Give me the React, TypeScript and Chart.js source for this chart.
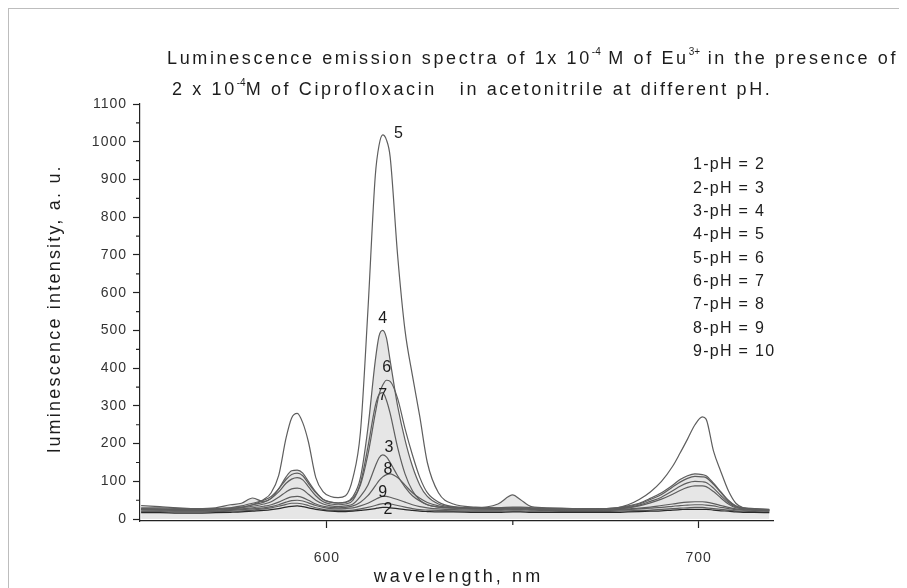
import React, { useEffect, useRef } from "react";
import { Chart, registerables } from "chart.js";

Chart.register(...registerables);

// Wavelength grid (nm) shared by all spectra
const WAVELENGTH = [
  550, 555, 560, 565, 570, 574, 577, 580, 583, 585,
  587, 589, 590.5, 592, 593.5, 595, 597, 599, 601, 603,
  605, 607, 609, 611, 613, 614, 615, 616, 617, 619,
  621, 623, 625, 627, 630, 634, 640, 646, 650, 652,
  655, 660, 666, 672, 678, 681, 684, 687, 690, 693,
  695, 697, 699, 701, 702, 704, 706, 708, 710, 712,
  715, 719,
];

// Luminescence intensity (a. u.) for each curve
const CURVE_1 = [
  17, 17, 16, 16, 17, 18, 19, 21, 23, 25,
  28, 32, 34, 35, 33, 30, 26, 23, 21, 20,
  20, 21, 23, 25, 28, 30, 31, 31, 30, 28,
  25, 23, 21, 20, 19, 19, 18, 18, 19, 19,
  18, 18, 18, 18, 18, 19, 20, 21, 22, 24,
  25, 26, 26, 26, 26, 24, 22, 21, 19, 18,
  18, 17,
];
const CURVE_2 = [
  20, 20, 19, 19, 20, 21, 22, 24, 27, 30,
  34, 39, 42, 42, 40, 36, 30, 26, 24, 23,
  23, 24, 27, 31, 36, 39, 41, 41, 40, 36,
  32, 28, 25, 24, 23, 22, 21, 21, 22, 22,
  21, 21, 20, 20, 21, 22, 23, 24, 26, 28,
  29, 30, 31, 31, 30, 28, 26, 24, 22, 21,
  20, 19,
];
const CURVE_3 = [
  26, 25, 24, 24, 25, 27, 30, 34, 40, 46,
  58, 72, 80, 82, 78, 66, 50, 40, 35, 33,
  35, 40, 60, 90, 140, 162, 170, 165, 150, 115,
  85, 62, 48, 38, 32, 29, 27, 27, 28, 28,
  27, 26, 25, 25, 27, 30, 35, 43, 53, 66,
  76, 84, 88, 88, 86, 73, 56, 40, 30, 27,
  25, 23,
];
const CURVE_4 = [
  30, 30, 28, 28, 30, 38, 42, 56, 46, 55,
  80, 112, 128, 130, 122, 100, 72, 52, 45, 43,
  45, 60, 110, 240, 420, 485, 500, 480, 420, 300,
  210, 140, 90, 60, 40, 32, 30, 40, 64, 52,
  33, 30, 28, 27, 30, 35, 42, 55, 70, 90,
  105, 115, 120, 118, 115, 95, 72, 50, 35, 30,
  28, 26,
];
const CURVE_5 = [
  36, 33, 30, 28, 28, 29, 31, 38, 52, 70,
  115, 215, 268, 280, 255, 205, 110, 72, 60, 57,
  62, 110, 230, 550, 910, 990, 1018, 1005, 960, 700,
  500, 380, 270, 150, 70, 40, 32, 30, 30, 30,
  29, 28, 27, 27, 30, 38, 52, 72, 100, 140,
  175, 212, 250, 271, 265, 180, 125, 75, 42, 30,
  26, 24,
];
const CURVE_6 = [
  28, 27, 26, 26, 27, 30, 35, 42, 50, 60,
  80, 105, 118, 122, 115, 95, 70, 52, 45, 42,
  44, 55, 90, 170, 280, 330, 355, 368, 365, 320,
  240, 170, 110, 70, 45, 33, 30, 30, 32, 32,
  30, 28, 27, 27, 29, 33, 40, 52, 65, 85,
  98, 108, 113, 112, 110, 92, 70, 48, 34, 29,
  27, 25,
];
const CURVE_7 = [
  27, 26, 25, 25, 26, 28, 32, 38, 45, 55,
  72, 95, 106, 110, 104, 86, 62, 46, 40, 38,
  40, 50, 95, 190, 300, 330, 335, 315, 280, 190,
  120, 75, 50, 38, 32, 30, 28, 28, 29, 29,
  28, 27, 26, 26, 28, 31, 37, 47, 58, 75,
  87, 96, 100, 99, 97, 82, 62, 44, 32, 28,
  26, 24,
];
const CURVE_8 = [
  25, 24, 23, 23, 24, 25, 27, 30, 34, 38,
  45, 54, 59, 60, 57, 50, 40, 34, 31, 30,
  31, 35, 45, 62, 88, 102, 112, 118, 120, 110,
  90, 70, 55, 44, 35, 30, 27, 26, 27, 27,
  26, 25, 24, 24, 25, 27, 29, 32, 36, 40,
  43, 45, 46, 46, 45, 41, 36, 31, 27, 25,
  24, 22,
];
const CURVE_9 = [
  22, 22, 21, 21, 22, 23, 25, 27, 30, 33,
  38, 45, 49, 50, 48, 43, 36, 31, 28, 27,
  28, 30, 35, 42, 52, 57, 60, 60, 58, 52,
  45, 38, 33, 30, 27, 25, 24, 24, 25, 25,
  24, 23, 23, 23, 24, 25, 27, 29, 31, 34,
  36, 37, 38, 38, 37, 35, 31, 28, 25, 24,
  23, 21,
];

const CURVES = [CURVE_1, CURVE_2, CURVE_3, CURVE_4, CURVE_5, CURVE_6, CURVE_7, CURVE_8, CURVE_9];
const PH_VALUES = [2, 3, 4, 5, 6, 7, 8, 9, 10];
const FILLED_CURVE = 4; // curve number whose area is shaded

// Numbers written next to the peaks at ~615 nm (data coordinates)
const PEAK_LABELS = ["5", "4", "6", "7", "3", "8", "9", "2"];
const PEAK_LABEL_NM = [619.2, 615.0, 616.1, 615.0, 616.7, 616.4, 615.0, 616.4];
const PEAK_LABEL_VALUE = [1021, 532, 402, 328, 190, 130, 69, 24];

const X_TICKS = [600, 650, 700];
const X_LABELED = [600, 700];
const Y_MAX = 1100;

const FONT = '"Liberation Sans", Arial, sans-serif';

const decorPlugin = {
  id: "decor",
  beforeDraw(chart: any) {
    chart.ctx.letterSpacing = "1px";
  },
  afterDraw(chart: any) {
    const { ctx, chartArea } = chart;
    const xs = chart.scales.x;
    const ys = chart.scales.y;
    ctx.save();

    // minor ticks
    ctx.strokeStyle = "#222";
    ctx.lineWidth = 1.2;
    ctx.beginPath();
    for (let v = 50; v < Y_MAX; v += 100) {
      const py = ys.getPixelForValue(v);
      ctx.moveTo(chartArea.left - 4, py);
      ctx.lineTo(chartArea.left, py);
    }
    X_TICKS.filter((t) => !X_LABELED.includes(t)).forEach((t) => {
      const px = xs.getPixelForValue(t);
      ctx.moveTo(px, chartArea.bottom);
      ctx.lineTo(px, chartArea.bottom + 4);
    });
    ctx.stroke();

    ctx.fillStyle = "#1c1c1c";
    ctx.textBaseline = "middle";
    ctx.textAlign = "left";

    // title (two lines with superscripts)
    const titleFont = `18px ${FONT}`;
    const supFont = `10px ${FONT}`;
    const line1 = [
      ["Luminescence emission spectra of 1x 10", false],
      ["-4", true],
      [" M of Eu", false],
      ["3+", true],
      [" in the presence of", false],
    ] as [string, boolean][];
    const line2 = [
      ["2 x 10", false],
      ["-4", true],
      ["M of Ciprofloxacin   in acetonitrile at different pH.", false],
    ] as [string, boolean][];
    let w0 = 0;
    let n0 = 0;
    line1.forEach(([t, s]) => {
      ctx.font = s ? supFont : titleFont;
      ctx.letterSpacing = "0px";
      w0 += ctx.measureText(t).width;
      n0 += s ? 0 : t.length;
    });
    const spacing = Math.max(0, (731 - w0) / n0);
    const drawRich = (segs: [string, boolean][], x: number, y: number) => {
      segs.forEach(([t, s]) => {
        ctx.font = s ? supFont : titleFont;
        ctx.letterSpacing = s ? "0px" : spacing + "px";
        ctx.fillText(t, x, s ? y - 7 : y);
        x += ctx.measureText(t).width;
      });
    };
    drawRich(line1, 158, 50);
    drawRich(line2, 163, 81);

    // legend list
    ctx.font = `16px ${FONT}`;
    ctx.letterSpacing = "1.3px";
    PH_VALUES.forEach((ph, i) => {
      ctx.fillText(`${i + 1}-pH = ${ph}`, 684, 156 + i * 23.3);
    });

    // peak labels
    ctx.font = `16px ${FONT}`;
    ctx.letterSpacing = "0px";
    ctx.textAlign = "center";
    PEAK_LABELS.forEach((lab, i) => {
      ctx.fillText(lab, xs.getPixelForValue(PEAK_LABEL_NM[i]), ys.getPixelForValue(PEAK_LABEL_VALUE[i]));
    });

    // axis titles
    ctx.font = `18px ${FONT}`;
    ctx.letterSpacing = "3.1px";
    ctx.fillText("wavelength, nm", (chartArea.left + chartArea.right) / 2 + 2, 568);

    ctx.font = `18px ${FONT}`;
    ctx.letterSpacing = "2.2px";
    ctx.translate(46, (chartArea.top + chartArea.bottom) / 2 - 4);
    ctx.rotate(-Math.PI / 2);
    ctx.fillText("luminescence intensity, a. u.", 0, 0);

    ctx.restore();
  },
};

export default function App() {
  const canvasRef = useRef<HTMLCanvasElement | null>(null);

  useEffect(() => {
    document.documentElement.style.overflow = "hidden";
    const canvas = canvasRef.current;
    if (!canvas) return;
    const datasets = CURVES.map((vals, i) => ({
      label: `${i + 1}-pH = ${PH_VALUES[i]}`,
      data: WAVELENGTH.map((x, j) => ({ x, y: vals[j] })),
      borderColor: i === 0 ? "#2a2a2a" : "#5e5e5e",
      borderWidth: 1.2,
      pointRadius: 0,
      cubicInterpolationMode: "monotone" as const,
      fill: i + 1 === FILLED_CURVE ? "origin" : false,
      backgroundColor: "#e6e6e6",
    }));

    const chart = new Chart(canvas, {
      type: "line",
      data: { datasets },
      options: {
        responsive: false,
        animation: false,
        events: [],
        layout: { padding: { top: 95, right: 126, bottom: 0, left: 0 } },
        plugins: {
          legend: { display: false },
          title: { display: false },
          tooltip: { enabled: false },
          filler: { drawTime: "beforeDatasetsDraw" },
        },
        scales: {
          x: {
            type: "linear",
            min: 549.7,
            max: 720,
            afterBuildTicks: (s: any) => {
              s.ticks = X_TICKS.map((v) => ({ value: v }));
            },
            afterFit: (s: any) => {
              s.height = 67;
            },
            ticks: {
              callback: (v: any) => (X_LABELED.includes(Number(v)) ? String(v) : ""),
              font: { family: FONT, size: 14 },
              color: "#333",
              padding: 22,
              maxRotation: 0,
              autoSkip: false,
            },
            grid: {
              drawOnChartArea: false,
              tickLength: 7,
              tickWidth: 1.2,
              tickColor: (c: any) =>
                c.tick && X_LABELED.includes(c.tick.value) ? "#222" : "rgba(0,0,0,0)",
            },
            border: { display: true, color: "#222", width: 1.2 },
          },
          y: {
            type: "linear",
            min: -5,
            max: Y_MAX,
            afterBuildTicks: (s: any) => {
              const t = [];
              for (let v = 0; v <= Y_MAX; v += 100) t.push({ value: v });
              s.ticks = t;
            },
            afterFit: (s: any) => {
              s.width = 131;
            },
            ticks: {
              callback: (v: any) => String(v),
              font: { family: FONT, size: 14 },
              color: "#333",
              padding: 6,
              autoSkip: false,
            },
            grid: {
              drawOnChartArea: false,
              tickLength: 7,
              tickWidth: 1.2,
              tickColor: "#222",
            },
            border: { display: true, color: "#222", width: 1.2 },
          },
        },
      },
      plugins: [decorPlugin],
    });
    return () => chart.destroy();
  }, []);

  return (
    <div
      style={{
        width: 890,
        height: 579,
        borderTop: "1px solid #bdbdbd",
        borderLeft: "1px solid #bdbdbd",
        background: "#fff",
      }}
    >
      <canvas ref={canvasRef} width={890} height={579} style={{ display: "block" }} />
    </div>
  );
}
